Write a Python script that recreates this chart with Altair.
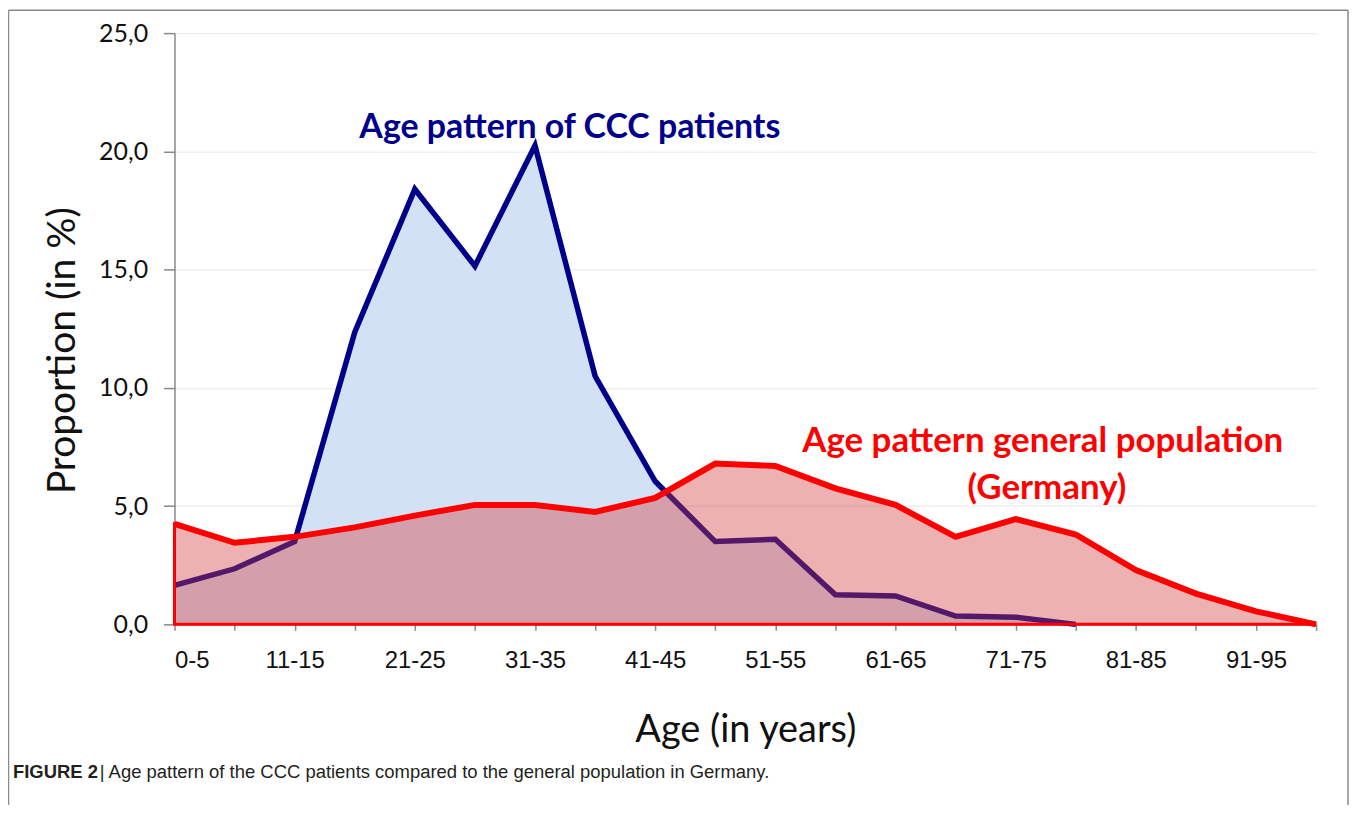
import altair as alt
import pandas as pd

# ---- data ----
age_groups = ["0-5", "6-10", "11-15", "16-20", "21-25", "26-30", "31-35", "36-40",
              "41-45", "46-50", "51-55", "56-60", "61-65", "66-70", "71-75", "76-80",
              "81-85", "86-90", "91-95", "96-100"]
ccc_patients = [1.65, 2.35, 3.5, 12.35, 18.4, 15.15, 20.25, 10.5, 6.05, 3.5,
                3.6, 1.25, 1.2, 0.35, 0.3, 0.0, None, None, None, None]
germany = [4.25, 3.45, 3.7, 4.1, 4.6, 5.05, 5.05, 4.75, 5.35, 6.8,
           6.7, 5.75, 5.05, 3.7, 4.45, 3.8, 2.3, 1.3, 0.55, 0.0]
y_ticks = [0, 5, 10, 15, 20, 25]

df = pd.DataFrame({
    "idx": list(range(len(age_groups))),
    "age": age_groups,
    "ccc": ccc_patients,
    "ger": germany,
})

label_array = "[" + ",".join("'" + a + "'" for a in age_groups) + "]"
x_label_expr = f"(datum.value % 2 === 0) ? {label_array}[datum.value] : ''"
x_tick_values = [i * 0.5 for i in range(2 * (len(age_groups) - 1) + 1)]

W, H = 1145, 593

x_enc = alt.X(
    "idx:Q",
    scale=alt.Scale(domain=[0, len(age_groups) - 1], nice=False, zero=False),
    axis=alt.Axis(
        title="Age (in years)",
        values=x_tick_values,
        labelExpr=x_label_expr,
        labelOverlap=False,
        labelFont="Liberation Sans",
        labelFontSize=24,
        labelColor="#111111",
        labelPadding=18,
        tickSize=6,
        tickColor="#8a8a8a",
        tickWidth=1.5,
        domainColor="#8a8a8a",
        domainWidth=1.5,
        grid=False,
        titleFont="Lato",
        titleFontSize=38,
        titleFontWeight="normal",
        titleColor="#111111",
        titlePadding=39,
    ),
)

y_axis = alt.Axis(
    title="Proportion (in %)",
    values=y_ticks,
    labelExpr="replace(format(datum.value, '.1f'), '.', ',')",
    labelFont="Lato",
    labelFontSize=25,
    labelColor="#111111",
    labelPadding=16,
    tickSize=11,
    tickColor="#8a8a8a",
    tickWidth=1.5,
    domainColor="#8a8a8a",
    domainWidth=1.5,
    grid=True,
    gridColor="#ebebeb",
    gridWidth=1.2,
    titleFont="Lato",
    titleFontSize=39,
    titleFontWeight="normal",
    titleColor="#111111",
    titleX=-112,
    titleY=318,
    titleBaseline="middle",
    titleAlign="center",
    titleAngle=270,
)
y_scale = alt.Scale(domain=[0, 25], nice=False)

base = alt.Chart(df)

blue_area = base.mark_area(color="#D2E1F3", opacity=1).encode(
    x=x_enc, y=alt.Y("ccc:Q", scale=y_scale, axis=y_axis)
)
blue_line = base.mark_line(color="#00008B", strokeWidth=5.5).encode(
    x="idx:Q", y=alt.Y("ccc:Q", scale=y_scale)
)
red_area = base.mark_area(
    fill="#D23C3C", fillOpacity=0.4, stroke="#FF0000", strokeWidth=3
).encode(x="idx:Q", y=alt.Y("ger:Q", scale=y_scale))
red_line = base.mark_line(color="#FF0000", strokeWidth=6).encode(
    x="idx:Q", y=alt.Y("ger:Q", scale=y_scale)
)

ann = alt.Chart(pd.DataFrame({"a": [0]}))
blue_title = ann.mark_text(
    text="Age pattern of CCC patients", font="Lato", fontWeight="bold",
    fontSize=34, color="#00008B", align="center", baseline="middle"
).encode(x=alt.datum(6.58), y=alt.datum(21.0))
red_title1 = ann.mark_text(
    text="Age pattern general population", font="Lato", fontWeight="bold",
    fontSize=35, color="#FF0000", align="center", baseline="middle"
).encode(x=alt.datum(14.45), y=alt.datum(7.76))
red_title2 = ann.mark_text(
    text="(Germany)", font="Lato", fontWeight="bold",
    fontSize=35, color="#FF0000", align="center", baseline="middle"
).encode(x=alt.datum(14.52), y=alt.datum(5.78))

caption_bold = ann.mark_text(
    text="FIGURE 2", font="Liberation Sans", fontWeight="bold", fontSize=18.5,
    color="#231F20", align="left", baseline="middle"
).encode(x=alt.value(-162), y=alt.value(741))
caption_reg = ann.mark_text(
    text="| Age pattern of the CCC patients compared to the general population in Germany.",
    font="Liberation Sans", fontSize=18.5, color="#231F20", align="left", baseline="middle"
).encode(x=alt.value(-75), y=alt.value(741))

frame_color = "#8a8a8a"
frame_left = ann.mark_rule(color=frame_color, strokeWidth=1.5).encode(
    x=alt.value(-166.5), y=alt.value(-23), y2=alt.value(800)
)
frame_top = ann.mark_rule(color=frame_color, strokeWidth=1.5).encode(
    x=alt.value(-166.5), x2=alt.value(1177), y=alt.value(-23)
)
frame_right = ann.mark_rule(color=frame_color, strokeWidth=1.5).encode(
    x=alt.value(1177), y=alt.value(-23), y2=alt.value(800)
)

chart = alt.layer(
    frame_left, frame_top, frame_right,
    blue_area, blue_line, red_area, red_line,
    blue_title, red_title1, red_title2, caption_bold, caption_reg
).properties(
    width=W, height=H,
    autosize=alt.AutoSizeParams(type="none"),
    padding={"left": 167, "top": 24, "right": 34, "bottom": 180},
    background="white",
).configure_view(stroke=None)

chart.save("out.html", embed_options={"renderer": "svg", "actions": False})
